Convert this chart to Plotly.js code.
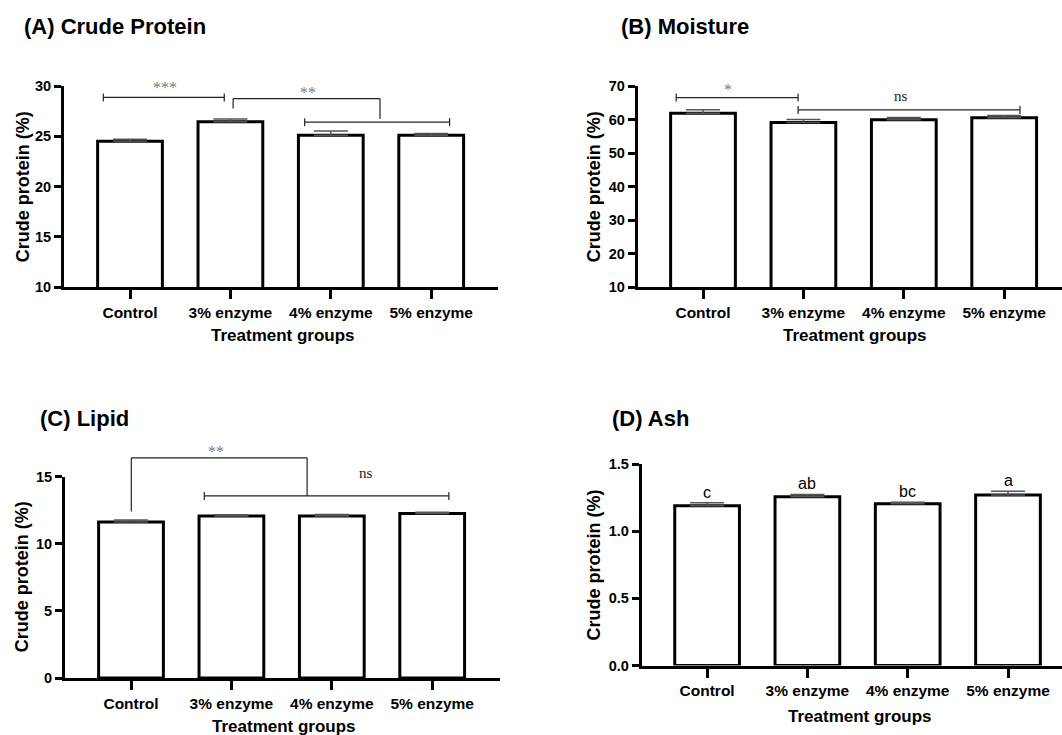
<!DOCTYPE html>
<html><head><meta charset="utf-8">
<script src="https://cdn.plot.ly/plotly-3.0.1.min.js"></script>
<style>html,body{margin:0;padding:0;background:#fff}#chart{width:1062px;height:735px}</style>
</head><body><div id="chart"></div>
<script>
// ---- data ----
const categories = ['Control', '3% enzyme', '4% enzyme', '5% enzyme'];
const proteinMean = [24.5, 26.45, 25.1, 25.1];
const proteinErr = [0.22, 0.26, 0.42, 0.19];
const moistureMean = [61.9, 59.1, 59.9, 60.5];
const moistureErr = [1.0, 0.9, 0.7, 0.7];
const lipidMean = [11.62, 12.08, 12.08, 12.25];
const lipidErr = [0.15, 0.08, 0.1, 0.1];
const ashMean = [1.19, 1.256, 1.204, 1.27];
const ashErr = [0.022, 0.017, 0.012, 0.028];
const ashLetters = ['c', 'ab', 'bc', 'a'];
const panelTitles = ['(A) Crude Protein', '(B) Moisture', '(C) Lipid', '(D) Ash'];
const yTitle = 'Crude protein (%)';
const xTitle = 'Treatment groups';

// ---- layout geometry (pixels) ----
const W = 1062, H = 735;
const panels = [
  {left: 64, right: 498.3, top: 86, bottom: 287.3, c0: 130, s: 100.4, yr: [10, 30], dtick: 5, fmt: '', title: [22, 27], ytitle: 22.7, xtitle: [283, 336]},
  {left: 637.7, right: 1062, top: 86, bottom: 287, c0: 703, s: 100.4, yr: [10, 70], dtick: 10, fmt: '', title: [618.5, 27], ytitle: 593.8, xtitle: [855, 336]},
  {left: 65, right: 499.5, top: 476.7, bottom: 678, c0: 131, s: 100.4, yr: [0, 15], dtick: 5, fmt: '', title: [38.3, 418], ytitle: 22, xtitle: [284, 726.5]},
  {left: 641.8, right: 1062, top: 464, bottom: 665.5, c0: 707.1, s: 100.3, yr: [0, 1.5], dtick: 0.5, fmt: '.1f', title: [609.7, 418], ytitle: 593.8, xtitle: [859.6, 716]}
];
panels.forEach(P => { P.xr = [-(P.c0 - P.left) / P.s, (P.right - P.c0) / P.s]; });

const means = [proteinMean, moistureMean, lipidMean, ashMean];
const errs = [proteinErr, moistureErr, lipidErr, ashErr];

// significance brackets (category units, data units)
const sigBars = [ // panel, x0, x1, y
  [0, -0.266, 0.939, 28.86], [0, 1.74, 3.183, 26.41],
  [1, -0.267, 0.947, 66.53], [1, 0.947, 3.157, 62.87],
  [2, 0.73, 3.166, 13.57]
];
const sigElbows = [ // panel, xa, ya, xb, yb, ytop
  [0, 1.027, 27.76, 2.49, 26.71, 28.75],
  [2, 0.003, 12.4, 1.754, 13.57, 16.41]
];
const sigLabels = [ // panel, text, x, y
  [0, '***', 0.345, 30.3], [0, '**', 1.774, 29.87],
  [1, '*', 0.247, 70.3], [1, 'ns', 1.971, 67.12],
  [2, '**', 0.848, 17.28], [2, 'ns', 2.339, 15.25]
];

function X(p, c) { const P = panels[p]; return (P.left + (c - P.xr[0]) / (P.xr[1] - P.xr[0]) * (P.right - P.left)) / W; }
function Y(p, v) { const P = panels[p]; return 1 - (P.bottom - (v - P.yr[0]) / (P.yr[1] - P.yr[0]) * (P.bottom - P.top)) / H; }

const FONT = 'Liberation Sans, Arial, sans-serif';
const SERIF = 'Liberation Serif, Times New Roman, serif';

const traces = [];
const layout = {
  width: W, height: H, margin: {l: 0, r: 0, t: 0, b: 0},
  paper_bgcolor: '#fff', plot_bgcolor: '#fff', showlegend: false,
  annotations: [], shapes: []
};

panels.forEach((P, i) => {
  const n = i === 0 ? '' : String(i + 1);
  traces.push({
    type: 'bar', x: categories, y: means[i], xaxis: 'x' + n, yaxis: 'y' + n,
    width: 0.645,
    marker: {color: '#ffffff', line: {color: '#000', width: 3}},
    error_y: {type: 'data', symmetric: false, array: errs[i], arrayminus: categories.map(() => 0),
      color: '#555', thickness: 1.5, width: 17},
    hoverinfo: 'x+y'
  });
  layout['xaxis' + n] = {
    type: 'category', domain: [P.left / W, P.right / W], range: P.xr, anchor: 'y' + n,
    showline: true, linewidth: 3, linecolor: '#000', ticks: 'outside', ticklen: 9, tickwidth: 3, tickcolor: '#000',
    showgrid: false, zeroline: false, fixedrange: true,
    tickfont: {family: FONT, size: 15.5, color: '#000', weight: 'bold'}
  };
  layout['yaxis' + n] = {
    domain: [1 - P.bottom / H, 1 - P.top / H], range: P.yr, anchor: 'x' + n,
    tick0: P.yr[0], dtick: P.dtick, tickformat: P.fmt,
    showline: true, linewidth: 3, linecolor: '#000', ticks: 'outside', ticklen: 7, tickwidth: 3, tickcolor: '#000',
    showgrid: false, zeroline: false, fixedrange: true,
    tickfont: {family: FONT, size: 14.5, color: '#000', weight: 'bold'}
  };
  layout.annotations.push({
    text: panelTitles[i], xref: 'paper', yref: 'paper', x: P.title[0] / W, y: 1 - P.title[1] / H,
    xanchor: 'left', yanchor: 'middle', showarrow: false,
    font: {family: FONT, size: 22, color: '#000', weight: 'bold'}
  });
  layout.annotations.push({
    text: yTitle, xref: 'paper', yref: 'paper', x: P.ytitle / W, y: 1 - (P.top + P.bottom) / 2 / H,
    xanchor: 'center', yanchor: 'middle', textangle: -90, showarrow: false,
    font: {family: FONT, size: 18, color: '#000', weight: 'bold'}
  });
  layout.annotations.push({
    text: xTitle, xref: 'paper', yref: 'paper', x: P.xtitle[0] / W, y: 1 - P.xtitle[1] / H,
    xanchor: 'center', yanchor: 'middle', showarrow: false,
    font: {family: FONT, size: 17, color: '#000', weight: 'bold'}
  });
});

// letters on panel D
categories.forEach((c, k) => {
  layout.annotations.push({
    text: ashLetters[k], xref: 'x4', yref: 'y4', x: c, y: ashMean[k] + ashErr[k],
    xanchor: 'center', yanchor: 'bottom', showarrow: false, yshift: 0,
    font: {family: FONT, size: 16, color: '#000'}
  });
});

const lineStyle = {color: '#222', width: 1.2};
const tk = 4 / H;
function seg(x0, y0, x1, y1) {
  layout.shapes.push({type: 'line', xref: 'paper', yref: 'paper', x0, y0, x1, y1, line: lineStyle});
}
sigBars.forEach(([p, a, b, v]) => {
  const y = Y(p, v), xa = X(p, a), xb = X(p, b);
  seg(xa, y, xb, y);
  seg(xa, y - tk, xa, y + tk);
  seg(xb, y - tk, xb, y + tk);
});
sigElbows.forEach(([p, a, ya, b, yb, yt]) => {
  const xa = X(p, a), xb = X(p, b), t = Y(p, yt);
  seg(xa, Y(p, ya), xa, t);
  seg(xa, t, xb, t);
  seg(xb, t, xb, Y(p, yb));
});
sigLabels.forEach(([p, txt, x, v]) => {
  const star = txt.indexOf('*') >= 0;
  layout.annotations.push({
    text: txt, xref: 'paper', yref: 'paper', x: X(p, x), y: Y(p, v),
    xanchor: 'center', yanchor: 'middle', showarrow: false, yshift: star ? -5 : 0,
    font: {family: SERIF, size: star ? 16 : 15, color: star ? '#7a7a7a' : '#222'}
  });
});

Plotly.newPlot('chart', traces, layout, {staticPlot: true, displayModeBar: false});
</script></body></html>
